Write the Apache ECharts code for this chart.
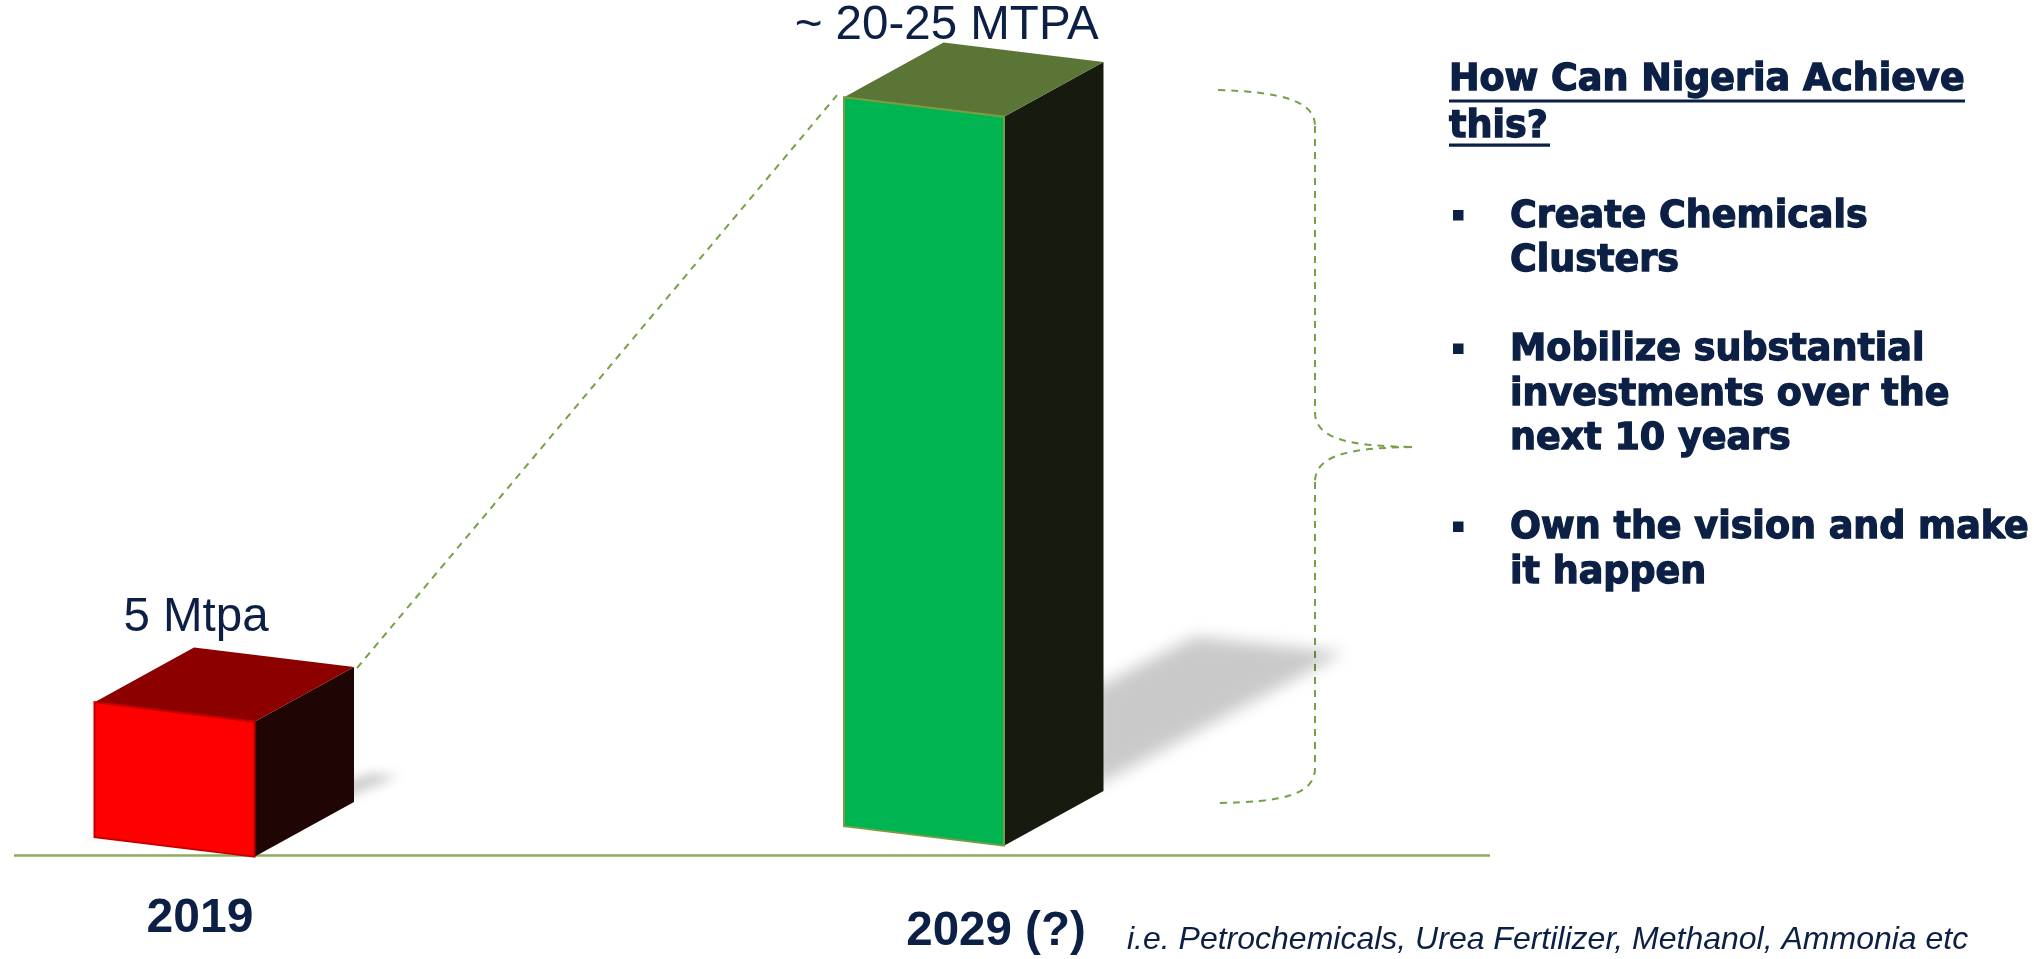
<!DOCTYPE html>
<html>
<head>
<meta charset="utf-8">
<script src="https://cdn.jsdelivr.net/npm/echarts@6/dist/echarts.min.js"></script>
<style>html,body{margin:0;padding:0;background:#fff}#c{width:2034px;height:959px}</style>
</head>
<body>
<div id="c"></div>
<script>
// ---- data ----
const categories = ['2019', '2029 (?)'];
const capacity = [5, 27];                       // bar heights
const valueLabels = ['5 Mtpa', '~ 20-25 MTPA'];
const headline = ['How Can Nigeria Achieve', 'this?'];
const bullets = [
  ['Create Chemicals', 'Clusters'],
  ['Mobilize substantial', 'investments over the', 'next 10 years'],
  ['Own the vision and make', 'it happen']
];
const footnote = 'i.e. Petrochemicals, Urea Fertilizer, Methanol, Ammonia etc';

// ---- styles ----
const NAVY = '#0c1f45';
const OLIVE = '#78a046';
const barStyle = [
  { front: '#ff0000', border: '#c40000', top: '#8c0000', side: '#1f0604', lift: 1.2, label: [21.5, -68], blur: 12 },
  { front: '#00b551', border: '#7c9c44', top: '#5b7536', side: '#161a0f', lift: -9.8, label: [22.7, -55], blur: 16 }
];
const HW = 80, SLOPE = 19.5, DX = 99.5, DY = -54.7;
const OFF = 4000; // shadow shape is drawn off-canvas, only its blurred shadow is shifted back

function geom(api, i, v) {
  const s = barStyle[i];
  const b = api.coord([i, 0]);
  const t = api.coord([i, v]);
  const cx = b[0];
  const yb = b[1] + s.lift, yt = t[1] + s.lift;
  const g = {
    cx: cx,
    BR: [cx + HW, yb], BL: [cx - HW, yb - SLOPE],
    TR: [cx + HW, yt], TL: [cx - HW, yt - SLOPE],
    h: yb - yt
  };
  g.TRd = [g.TR[0] + DX, g.TR[1] + DY];
  g.TLd = [g.TL[0] + DX, g.TL[1] + DY];
  g.BRd = [g.BR[0] + DX, g.BR[1] + DY];
  return g;
}

function renderItem(params, api) {
  const i = params.dataIndex;
  const v = api.value(1);
  const s = barStyle[i];
  const g = geom(api, i, v);
  const h = g.h, o = g.BRd;
  const kids = [];
  // soft ground shadow
  const sp = [[o[0] - 10, o[1] - 0.14 * h], [o[0] + 0.125 * h, o[1] - 0.212 * h], [o[0] + 0.33 * h, o[1] - 0.19 * h], [o[0] - 10, o[1] - 4]];
  kids.push({
    type: 'polygon',
    shape: { points: sp.map(p => [p[0] - OFF, p[1]]) },
    style: { fill: '#000000', shadowBlur: s.blur, shadowColor: 'rgba(0,0,0,0.21)', shadowOffsetX: OFF, shadowOffsetY: 0 }
  });
  // right face
  kids.push({ type: 'polygon', shape: { points: [g.TR, g.BR, g.BRd, g.TRd] }, style: { fill: s.side } });
  // top face
  kids.push({ type: 'polygon', shape: { points: [g.TL, g.TR, g.TRd, g.TLd] }, style: { fill: s.top } });
  // front face
  kids.push({ type: 'polygon', shape: { points: [g.TL, g.TR, g.BR, g.BL] }, style: { fill: s.front, stroke: s.border, lineWidth: 2 } });
  // value label
  kids.push({
    type: 'text',
    style: {
      text: valueLabels[i],
      x: g.cx + s.label[0], y: g.TL[1] + s.label[1] - 16.5,
      fill: NAVY, font: '47.5px "Liberation Sans", Arial, sans-serif',
      textAlign: 'center', textVerticalAlign: 'middle', align: 'center', verticalAlign: 'middle'
    }
  });
  // dashed connector from previous bar's top corner to this bar's front top
  if (i > 0) {
    const p = geom(api, i - 1, capacity[i - 1]);
    kids.push({
      type: 'line',
      shape: { x1: p.TRd[0] + 3, y1: p.TRd[1] + 1, x2: g.TL[0] - 7, y2: g.TL[1] - 2 },
      style: { stroke: OLIVE, lineWidth: 2, lineDash: [7, 6] }
    });
  }
  return { type: 'group', children: kids };
}

// ---- right-hand text block & decorations ----
const TXT_FONT = 'bold 36.5px "DejaVu Sans", sans-serif';
const graphics = [];
graphics.push({ type: 'line', shape: { x1: 14, y1: 855.5, x2: 1490, y2: 855.5 }, style: { stroke: '#8dac60', lineWidth: 2.5 }, z: 0 });
const braceStyle = { stroke: OLIVE, lineWidth: 2, lineDash: [7, 6], fill: null };
function bz(x1, y1, c1x, c1y, c2x, c2y, x2, y2) {
  graphics.push({ type: 'bezierCurve', shape: { x1: x1, y1: y1, cpx1: c1x, cpy1: c1y, cpx2: c2x, cpy2: c2y, x2: x2, y2: y2 }, style: Object.assign({}, braceStyle) });
}
function ln(x1, y1, x2, y2) {
  graphics.push({ type: 'line', shape: { x1: x1, y1: y1, x2: x2, y2: y2 }, style: Object.assign({}, braceStyle) });
}
bz(1218, 90, 1282, 92, 1315, 101, 1315, 126);
ln(1315, 126, 1315, 412);
bz(1315, 412, 1315, 438, 1346, 446, 1412, 447);
bz(1412, 447, 1346, 448, 1315, 456, 1315, 482);
ln(1315, 482, 1315, 768);
bz(1315, 768, 1315, 795, 1282, 802, 1218, 803);

const SHIFT = 3;
function addLine(text, x, baseline) {
  graphics.push({
    type: 'text',
    style: {
      text: text, x: x, y: baseline + SHIFT - 12.8, fill: NAVY, font: TXT_FONT,
      stroke: NAVY, lineWidth: 1.3,
      textAlign: 'left', textVerticalAlign: 'middle', align: 'left', verticalAlign: 'middle'
    }
  });
}
const headBase = [90.7, 137.3];
headline.forEach((t, k) => addLine(t, 1449, headBase[k]));
graphics.push({ type: 'rect', shape: { x: 1449, y: 96.5 + SHIFT, width: 516, height: 3 }, style: { fill: NAVY } });
graphics.push({ type: 'rect', shape: { x: 1449, y: 140.5 + SHIFT, width: 101, height: 3.2 }, style: { fill: NAVY } });
const LINE = 44.5, GAP = 44.5;
let b = 227;
bullets.forEach((group) => {
  graphics.push({ type: 'rect', shape: { x: 1453, y: b + SHIFT - 20, width: 10.5, height: 10.5 }, style: { fill: NAVY } });
  group.forEach((t) => { addLine(t, 1510, b); b += LINE; });
  b += GAP;
});
graphics.push({
  type: 'text',
  style: {
    text: footnote, x: 1127, y: 951.5 - 11.2, fill: NAVY,
    font: 'italic 32px "Liberation Sans", Arial, sans-serif',
    textAlign: 'left', textVerticalAlign: 'middle', align: 'left', verticalAlign: 'middle'
  }
});

const chart = echarts.init(document.getElementById('c'), null, { renderer: 'canvas' });
chart.setOption({
  animation: false,
  backgroundColor: '#ffffff',
  grid: { left: 174.5, right: 1110, top: 45.5, bottom: 103.5, containLabel: false },
  xAxis: {
    type: 'category', data: categories, boundaryGap: false,
    axisLine: { show: false }, axisTick: { show: false }, splitLine: { show: false },
    axisLabel: {
      interval: 0, margin: 39,
      formatter: (val, idx) => idx === 0 ? '{a|' + val + '}' : '{b|' + val + '}',
      rich: {
        a: { fontSize: 48, fontWeight: 'bold', fontFamily: '"Liberation Sans", Arial, sans-serif', color: NAVY, padding: [0, 0, 0, 51] },
        b: { fontSize: 47.5, fontWeight: 'bold', fontFamily: '"Liberation Sans", Arial, sans-serif', color: NAVY, padding: [13, 0, 0, 144] }
      }
    }
  },
  yAxis: { type: 'value', min: 0, max: 30, show: false },
  graphic: graphics,
  series: [{
    type: 'custom',
    renderItem: renderItem,
    data: capacity.map((v, i) => [i, v]),
    encode: { x: 0, y: 1 },
    clip: false,
    silent: true,
    z: 3
  }]
});
</script>
</body>
</html>
